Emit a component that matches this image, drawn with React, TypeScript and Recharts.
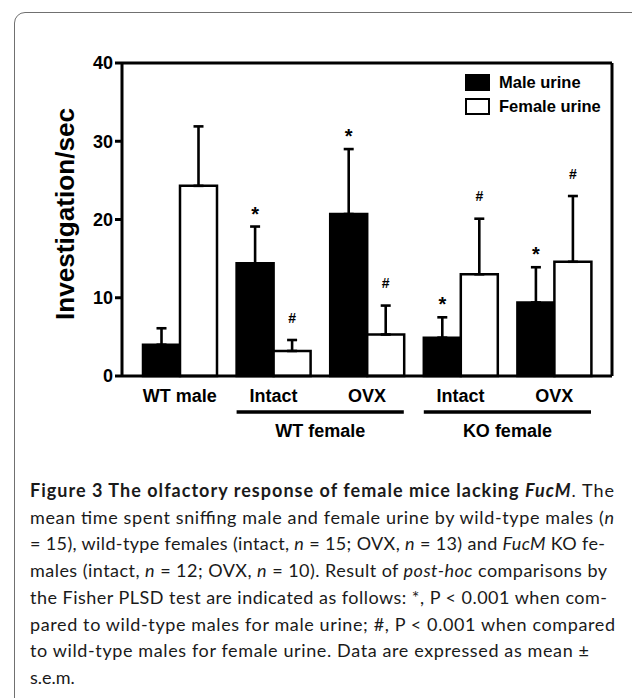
import React from "react";
import { BarChart, Bar, XAxis, YAxis, ErrorBar, LabelList, Legend } from "recharts";

const groupKeys = ["wtMale", "wtIntact", "wtOvx", "koIntact", "koOvx"];
const tickLabels = ["WT male", "Intact", "OVX", "Intact", "OVX"];
// group label spans two categories, starting at the given index
const groupSpans = [
  { start: 1, label: "WT female" },
  { start: 3, label: "KO female" },
];
const maleUrine = [4.0, 14.4, 20.7, 4.9, 9.4];
const maleSem = [2.1, 4.7, 8.3, 2.6, 4.5];
const femaleUrine = [24.3, 3.2, 5.3, 13.0, 14.6];
const femaleSem = [7.6, 1.4, 3.7, 7.1, 8.4];
const maleMarks = ["", "*", "*", "*", "*"];
const femaleMarks = ["", "#", "#", "#", "#"];
const yTicks = [0, 10, 20, 30, 40];
const legendOrder = ["Male urine", "Female urine"];

const rows = groupKeys.map((key, i) => ({
  key,
  male: maleUrine[i],
  maleErr: [0, maleSem[i]],
  maleMark: maleMarks[i],
  female: femaleUrine[i],
  femaleErr: [0, femaleSem[i]],
  femaleMark: femaleMarks[i],
}));

type Seg = { t: string; b?: boolean; i?: boolean };
const captionLines: Seg[][] = [
  [
    { t: "Figure 3 The olfactory response of female mice lacking ", b: true },
    { t: "FucM", b: true, i: true },
    { t: ". The" },
  ],
  [{ t: "mean time spent sniffing male and female urine by wild-type males (" }, { t: "n", i: true }],
  [
    { t: "= 15), wild-type females (intact, " },
    { t: "n", i: true },
    { t: " = 15; OVX, " },
    { t: "n", i: true },
    { t: " = 13) and " },
    { t: "FucM", i: true },
    { t: " KO fe-" },
  ],
  [
    { t: "males (intact, " },
    { t: "n", i: true },
    { t: " = 12; OVX, " },
    { t: "n", i: true },
    { t: " = 10). Result of " },
    { t: "post-hoc", i: true },
    { t: " comparisons by" },
  ],
  [{ t: "the Fisher PLSD test are indicated as follows: *, P < 0.001 when com-" }],
  [{ t: "pared to wild-type males for male urine; #, P < 0.001 when compared" }],
  [{ t: "to wild-type males for female urine. Data are expressed as mean \u00b1" }],
  [{ t: "s.e.m." }],
];
const captionEnds = [614, 614, 605, 607, 607, 615, 589, 0];

const FONT = "'Liberation Sans', Arial, Helvetica, sans-serif";

const markContent =
  (values: number[], sems: number[], fontSize: number, lift: number) => (props: any) => {
    const vb = props.viewBox ?? props;
    const i = props.index;
    const text = props.value;
    if (!text || vb == null) return null;
    const pxPerUnit = vb.height / values[i];
    const capY = vb.y - sems[i] * pxPerUnit;
    return (
      <text
        x={vb.x + vb.width / 2}
        y={capY - lift}
        textAnchor="middle"
        fontSize={fontSize}
        fontWeight={700}
        fontFamily={FONT}
        fill="#000"
      >
        {text}
      </text>
    );
  };

const CategoryTick = (props: any) => {
  const { x, y, payload } = props;
  const i = payload.index ?? props.index;
  const half = payload.offset ? payload.offset : 46.8;
  const span = groupSpans.find((g) => g.start === i);
  return (
    <g>
      <text x={x} y={y + 18} textAnchor="middle" fontSize={18} fontWeight={700} fontFamily={FONT} fill="#000">
        {tickLabels[i]}
      </text>
      {span && (
        <>
          <line
            x1={x - half + 10}
            x2={x + 3 * half - 10}
            y1={y + 28}
            y2={y + 28}
            stroke="#000"
            strokeWidth={3.3}
          />
          <text
            x={x + half}
            y={y + 53}
            textAnchor="middle"
            fontSize={18}
            fontWeight={700}
            fontFamily={FONT}
            fill="#000"
          >
            {span.label}
          </text>
        </>
      )}
    </g>
  );
};

const LegendBox = ({ payload }: any) => {
  const items = [...(payload ?? [])].sort(
    (a: any, b: any) => legendOrder.indexOf(a.value) - legendOrder.indexOf(b.value)
  );
  return (
    <div style={{ fontFamily: FONT, fontWeight: 700, fontSize: 16.5, color: "#000" }}>
      {items.map((entry: any) => (
        <div key={entry.value} style={{ display: "flex", alignItems: "center", height: 24 }}>
          <span
            style={{
              display: "inline-block",
              width: 25,
              height: 17,
              boxSizing: "border-box",
              background: entry.color,
              border: "2.5px solid #000",
              marginRight: 9,
            }}
          />
          {entry.value}
        </div>
      ))}
    </div>
  );
};

const YLabel = () => (
  <text
    x={74}
    y={214}
    transform="rotate(-90 74 214)"
    textAnchor="middle"
    fontSize={26}
    fontWeight={700}
    fontFamily={FONT}
    fill="#000"
    textLength={212}
    lengthAdjust="spacingAndGlyphs"
  >
    Investigation/sec
  </text>
);

export default function App() {
  return (
    <div
      style={{
        position: "absolute",
        left: 0,
        top: 0,
        width: 632,
        height: 698,
        overflow: "hidden",
        background: "#fff",
      }}
    >
      <div
        style={{
          position: "absolute",
          left: 14,
          top: 12,
          width: 650,
          height: 720,
          border: "1.5px solid #707070",
          borderRadius: 11,
        }}
      />
      <div style={{ position: "absolute", left: 0, top: 0 }}>
        <BarChart
          width={632}
          height={460}
          data={rows}
          margin={{ top: 62, right: 19, left: 62, bottom: 54 }}
          barCategoryGap={10}
          barGap={0}
        >
          <XAxis
            dataKey="key"
            height={30}
            tickLine={false}
            axisLine={{ stroke: "#000", strokeWidth: 3 }}
            tick={<CategoryTick />}
            interval={0}
            padding={{ left: 11, right: 11 }}
          />
          <XAxis
            xAxisId="top"
            orientation="top"
            dataKey="key"
            height={1}
            tick={false}
            tickLine={false}
            axisLine={{ stroke: "#000", strokeWidth: 3 }}
          />
          <YAxis
            domain={[0, 40]}
            ticks={yTicks}
            width={60}
            tickSize={7}
            axisLine={{ stroke: "#000", strokeWidth: 3 }}
            tickLine={{ stroke: "#000", strokeWidth: 3 }}
            tick={{ fill: "#000", fontSize: 18, fontWeight: 700, fontFamily: FONT }}
            label={<YLabel />}
          />
          <YAxis
            yAxisId="right"
            orientation="right"
            width={1}
            tick={false}
            tickLine={false}
            axisLine={{ stroke: "#000", strokeWidth: 3 }}
          />
          <Legend
            layout="vertical"
            align="center"
            verticalAlign="middle"
            wrapperStyle={{ left: 465, top: 70, width: "auto" }}
            content={<LegendBox />}
          />
          <Bar
            dataKey="male"
            name="Male urine"
            fill="#000"
            stroke="#000"
            strokeWidth={2.5}
            isAnimationActive={false}
          >
            <ErrorBar dataKey="maleErr" width={5} strokeWidth={2.6} stroke="#000" isAnimationActive={false} />
            <LabelList dataKey="maleMark" content={markContent(maleUrine, maleSem, 20, 6)} />
          </Bar>
          <Bar
            dataKey="female"
            name="Female urine"
            fill="#fff"
            stroke="#000"
            strokeWidth={2.5}
            isAnimationActive={false}
          >
            <ErrorBar dataKey="femaleErr" width={5} strokeWidth={2.6} stroke="#000" isAnimationActive={false} />
            <LabelList dataKey="femaleMark" content={markContent(femaleUrine, femaleSem, 14, 17.5)} />
          </Bar>
        </BarChart>
      </div>
      <svg
        width={632}
        height={240}
        style={{ position: "absolute", left: 0, top: 460 }}
      >
        {captionLines.map((segs, k) => {
          const end = captionEnds[k];
          return (
            <text
              key={k}
              x={30}
              y={37 + k * 26.7}
              fontSize={18}
              fontFamily="Lato, 'Open Sans', sans-serif"
              fill="#1a1a1a"
              {...(end ? { textLength: end - 30, lengthAdjust: "spacing" } : {})}
            >
              {segs.map((s, j) => (
                <tspan key={j} fontWeight={s.b ? 700 : 400} fontStyle={s.i ? "italic" : "normal"}>
                  {s.t}
                </tspan>
              ))}
            </text>
          );
        })}
      </svg>
    </div>
  );
}
